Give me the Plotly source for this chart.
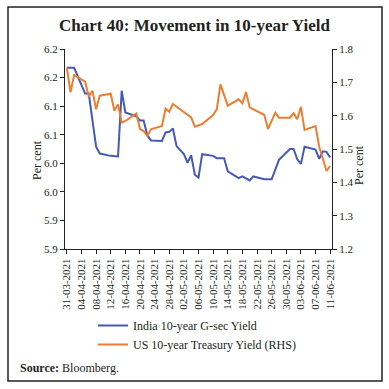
import plotly.graph_objects as go

# ---- data ----
india_dates = ["2021-03-31", "2021-04-02", "2021-04-05", "2021-04-06", "2021-04-08", "2021-04-09",
               "2021-04-12", "2021-04-14", "2021-04-15", "2021-04-16", "2021-04-19", "2021-04-20",
               "2021-04-21", "2021-04-22", "2021-04-23", "2021-04-26", "2021-04-27", "2021-04-28",
               "2021-04-29", "2021-04-30", "2021-05-02", "2021-05-03", "2021-05-04", "2021-05-05",
               "2021-05-06", "2021-05-07", "2021-05-10", "2021-05-11", "2021-05-13", "2021-05-14",
               "2021-05-17", "2021-05-18", "2021-05-20", "2021-05-21", "2021-05-24", "2021-05-26",
               "2021-05-28", "2021-05-31", "2021-06-01", "2021-06-02", "2021-06-03", "2021-06-04",
               "2021-06-07", "2021-06-08", "2021-06-09", "2021-06-10", "2021-06-11"]
india_yield = [6.167, 6.167, 6.122, 6.122, 6.029, 6.017,
               6.013, 6.012, 6.127, 6.089, 6.082, 6.075,
               6.075, 6.049, 6.040, 6.039, 6.054, 6.055,
               6.061, 6.030, 6.016, 6.001, 6.014, 5.980,
               5.975, 6.016, 6.013, 6.009, 6.009, 5.986,
               5.974, 5.977, 5.970, 5.977, 5.972, 5.972,
               6.006, 6.025, 6.025, 6.007, 5.999, 6.029,
               6.024, 6.008, 6.021, 6.020, 6.010]

us_dates = ["2021-03-31", "2021-04-01", "2021-04-02", "2021-04-05", "2021-04-06", "2021-04-07",
            "2021-04-08", "2021-04-09", "2021-04-12", "2021-04-13", "2021-04-14", "2021-04-15",
            "2021-04-16", "2021-04-19", "2021-04-20", "2021-04-21", "2021-04-22", "2021-04-23",
            "2021-04-26", "2021-04-27", "2021-04-28", "2021-04-29", "2021-05-04", "2021-05-05",
            "2021-05-07", "2021-05-10", "2021-05-11", "2021-05-12", "2021-05-14", "2021-05-17",
            "2021-05-18", "2021-05-19", "2021-05-20", "2021-05-23", "2021-05-24", "2021-05-25",
            "2021-05-27", "2021-05-28", "2021-05-31", "2021-06-01", "2021-06-02", "2021-06-03",
            "2021-06-04", "2021-06-07", "2021-06-08", "2021-06-10", "2021-06-11"]
us_yield = [1.744, 1.670, 1.722, 1.702, 1.657, 1.675,
            1.619, 1.660, 1.666, 1.615, 1.634, 1.579,
            1.584, 1.607, 1.560, 1.554, 1.539, 1.559,
            1.569, 1.621, 1.612, 1.635, 1.595, 1.567,
            1.575, 1.602, 1.619, 1.694, 1.630, 1.649,
            1.637, 1.671, 1.625, 1.607, 1.602, 1.560,
            1.609, 1.594, 1.594, 1.607, 1.589, 1.626,
            1.557, 1.569, 1.507, 1.434, 1.449]

left_tickvals = [5.85, 5.9, 5.95, 6.0, 6.05, 6.1, 6.15, 6.2]
left_ticktext = ["5.9", "5.9", "6.0", "6.0", "6.1", "6.1", "6.2", "6.2"]
right_tickvals = [1.2, 1.3, 1.4, 1.5, 1.6, 1.7, 1.8]
right_ticktext = ["1.2", "1.3", "1.4", "1.5", "1.6", "1.7", "1.8"]

series_names = ["India 10-year G-sec Yield", "US 10-year Treasury Yield (RHS)"]

SERIF = "Liberation Serif"
TXT = "#231f20"

fig = go.Figure()
fig.add_trace(go.Scatter(x=india_dates, y=india_yield, mode="lines", name=series_names[0],
                         line=dict(color="#4459b8", width=2), yaxis="y"))
fig.add_trace(go.Scatter(x=us_dates, y=us_yield, mode="lines", name=series_names[1],
                         line=dict(color="#ed7d31", width=2), yaxis="y2"))

W, H = 389, 389
L, R, T, B = 65, 57, 49, 140
pw, ph = W - L - R, H - T - B

def px_x(x):
    return (x - L) / pw

def px_y(y):
    return (H - B - y) / ph

fig.update_layout(
    width=W, height=H,
    margin=dict(l=L, r=R, t=T, b=B),
    paper_bgcolor="white", plot_bgcolor="white",
    font=dict(family=SERIF, size=11, color=TXT),
    title=dict(text="<b>Chart 40: Movement in 10-year Yield</b>", x=0.5, xanchor="center",
               y=1 - 25 / H, yanchor="middle", font=dict(family=SERIF, size=17, color=TXT)),
    xaxis=dict(type="date", range=["2021-03-30 12:00", "2021-06-11 12:00"],
               tick0="2021-03-31", dtick=4 * 86400000, tickformat="%d-%m-%Y",
               tickangle=-90, showline=True, linecolor="#222", linewidth=1,
               ticks="outside", ticklen=4, tickcolor="#222", showgrid=False, zeroline=False,
               tickfont=dict(family=SERIF, size=11, color=TXT)),
    yaxis=dict(range=[5.85, 6.2], tickvals=left_tickvals, ticktext=left_ticktext,
               showline=True, linecolor="#222", linewidth=1, ticks="outside", ticklen=4,
               tickcolor="#222", showgrid=False, zeroline=False,
               tickfont=dict(family=SERIF, size=11, color=TXT)),
    yaxis2=dict(range=[1.2, 1.8], tickvals=right_tickvals, ticktext=right_ticktext,
                overlaying="y", side="right", anchor="x",
                showline=True, linecolor="#222", linewidth=1, ticks="outside", ticklen=4,
                tickcolor="#222", showgrid=False, zeroline=False,
                tickfont=dict(family=SERIF, size=11, color=TXT)),
    legend=dict(x=px_x(93), y=px_y(311), xanchor="left", yanchor="top",
                font=dict(family=SERIF, size=12, color=TXT), bgcolor="rgba(0,0,0,0)",
                tracegroupgap=0, itemwidth=30),
    showlegend=True,
)

fig.add_annotation(text="Per cent", xref="paper", yref="paper", x=px_x(28), y=px_y(160),
                   textangle=-90, showarrow=False, font=dict(family=SERIF, size=12, color=TXT))
fig.add_annotation(text="Per cent", xref="paper", yref="paper", x=px_x(368), y=px_y(165),
                   textangle=-90, showarrow=False, font=dict(family=SERIF, size=12, color=TXT))
fig.add_annotation(text="<b>Source:</b> Bloomberg.", xref="paper", yref="paper",
                   x=px_x(18), y=px_y(368), xanchor="left", yanchor="middle",
                   showarrow=False, font=dict(family=SERIF, size=12, color=TXT))

fig.add_shape(type="rect", xref="paper", yref="paper",
              x0=px_x(8), x1=px_x(382), y0=px_y(381), y1=px_y(7),
              line=dict(color="#222", width=1.5), fillcolor="rgba(0,0,0,0)", layer="above")

fig.write_html("out.html", config={"displayModeBar": False},
               post_script="document.body.style.margin='0px';document.body.style.overflow='hidden';")
